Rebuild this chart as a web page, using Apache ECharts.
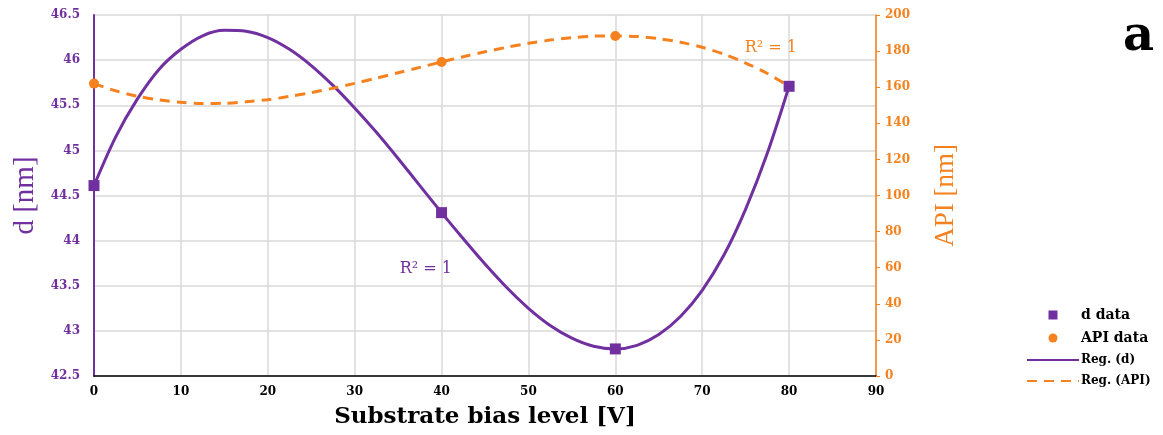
<!DOCTYPE html>
<html>
<head>
<meta charset="utf-8">
<script src="https://cdn.jsdelivr.net/npm/echarts@6/dist/echarts.min.js"></script>
<style>
  html, body { margin: 0; padding: 0; background: #fff; }
  #chart { width: 1163px; height: 435px; }
</style>
</head>
<body>
<div id="chart"></div>
<script>
// measured points
const biasX = [0, 40, 60, 80];
const dData = [44.61, 44.31, 42.80, 45.71];
const apiData = [162.0, 174.0, 188.4, 160.5];

// regression curves
const curveX = [0, 2.5, 5, 7.5, 10, 12.5, 15, 17.5, 20, 22.5, 25, 27.5, 30, 32.5, 35, 37.5,
  40, 42.5, 45, 47.5, 50, 52.5, 55, 57.5, 60, 62.5, 65, 67.5, 70, 72.5, 75, 77.5, 80];
const dCurve = [44.61, 45.15, 45.57, 45.90, 46.12, 46.27, 46.33, 46.32, 46.25, 46.12,
  45.94, 45.72, 45.47, 45.20, 44.91, 44.61, 44.31, 44.02, 43.74, 43.48, 43.25, 43.06,
  42.92, 42.83, 42.80, 42.84, 42.96, 43.16, 43.45, 43.84, 44.35, 44.97, 45.71];
const apiCurve = [162.0, 158.0, 155.0, 152.9, 151.6, 151.0, 151.1, 151.9, 153.1, 154.9,
  157.0, 159.4, 162.1, 165.0, 168.0, 171.0, 174.0, 176.9, 179.6, 182.1, 184.3, 186.1,
  187.4, 188.3, 188.4, 188.1, 186.9, 184.9, 182.1, 178.3, 173.4, 167.6, 160.5];

const xTicks = { min: 0, max: 90, interval: 10 };
const dTicks = { min: 42.5, max: 46.5, interval: 0.5 };
const apiTicks = { min: 0, max: 200, interval: 20 };

const PURPLE = '#7030a0';
const ORANGE = '#f5821f';
const SERIF = '"Liberation Serif", "DejaVu Serif", serif';
const WIDE = '"DejaVu Serif", serif';

const chart = echarts.init(document.getElementById('chart'));

const pair = (xs, ys) => xs.map((x, i) => [x, ys[i]]);

chart.setOption({
  animation: false,
  textStyle: { fontFamily: SERIF },
  grid: { left: 94, right: 287, top: 15, bottom: 59 },
  title: {
    text: 'a',
    left: 1118, top: 9,
    textStyle: { fontFamily: WIDE, fontSize: 48, fontWeight: 'bold', color: '#000' }
  },
  legend: {
    orient: 'vertical',
    left: 1021, top: 303,
    itemWidth: 52, itemHeight: 9,
    itemGap: 9,
    textStyle: { fontFamily: WIDE, fontWeight: 'bold', color: '#000', fontSize: 14, padding: [0, 0, 0, -3] },
    data: [
      { name: 'd data', icon: 'path://M0,0H10V10H0Z' },
      { name: 'API data' },
      { name: 'Reg. (d)', itemStyle: { opacity: 0 }, textStyle: { fontSize: 12 } },
      { name: 'Reg. (API)', itemStyle: { opacity: 0 }, textStyle: { fontSize: 12 } }
    ]
  },
  xAxis: {
    type: 'value',
    ...xTicks,
    name: 'Substrate bias level [V]',
    nameLocation: 'middle',
    nameGap: 30,
    nameTextStyle: { fontFamily: WIDE, fontSize: 23, fontWeight: 'bold', color: '#000' },
    axisLine: { onZero: false, lineStyle: { color: '#000', width: 1.5 } },
    axisTick: { show: false },
    axisLabel: { fontFamily: WIDE, fontWeight: 'bold', fontSize: 12, color: '#000', margin: 10 },
    splitLine: { lineStyle: { color: '#d9d9d9', width: 1.5 } }
  },
  yAxis: [
    {
      type: 'value',
      ...dTicks,
      position: 'left',
      name: 'd [nm]',
      nameLocation: 'middle',
      nameRotate: 90,
      nameGap: 54,
      nameTextStyle: { fontFamily: SERIF, fontSize: 29, color: PURPLE },
      axisLine: { show: true, lineStyle: { color: PURPLE, width: 2 } },
      axisTick: { show: false },
      axisLabel: { fontFamily: WIDE, fontWeight: 'bold', fontSize: 12, color: PURPLE, margin: 14 },
      splitLine: { lineStyle: { color: '#d9d9d9', width: 1.5 } }
    },
    {
      type: 'value',
      ...apiTicks,
      position: 'right',
      name: 'API [nm]',
      nameLocation: 'middle',
      nameRotate: 90,
      nameGap: 56,
      nameTextStyle: { fontFamily: SERIF, fontSize: 27, color: ORANGE },
      axisLine: { show: true, lineStyle: { color: ORANGE, width: 1.5 } },
      axisTick: { show: true, inside: false, length: 4, lineStyle: { color: ORANGE } },
      axisLabel: { fontFamily: WIDE, fontWeight: 'bold', fontSize: 12, color: ORANGE, margin: 9 },
      splitLine: { show: false }
    }
  ],
  series: [
    {
      name: 'Reg. (d)',
      type: 'line',
      yAxisIndex: 0,
      smooth: 0.3,
      symbol: 'none',
      data: pair(curveX, dCurve),
      lineStyle: { color: PURPLE, width: 3 },
      itemStyle: { color: PURPLE },
      z: 3,
      markPoint: {
        symbol: 'circle', symbolSize: 0,
        label: { show: true, formatter: 'R² = 1', color: PURPLE, fontFamily: WIDE, fontSize: 16 },
        data: [{ coord: [38.2, 43.69] }]
      }
    },
    {
      name: 'Reg. (API)',
      type: 'line',
      yAxisIndex: 1,
      smooth: 0.3,
      symbol: 'none',
      data: pair(curveX, apiCurve),
      lineStyle: { color: ORANGE, width: 3, type: [10, 7] },
      itemStyle: { color: ORANGE },
      z: 3,
      markPoint: {
        symbol: 'circle', symbolSize: 0,
        label: { show: true, formatter: 'R² = 1', color: ORANGE, fontFamily: WIDE, fontSize: 16 },
        data: [{ coord: [77.9, 182] }]
      }
    },
    {
      name: 'API data',
      type: 'scatter',
      yAxisIndex: 1,
      symbol: 'circle',
      symbolSize: 10,
      data: pair(biasX, apiData),
      itemStyle: { color: ORANGE, opacity: 1 },
      z: 4
    },
    {
      name: 'd data',
      type: 'scatter',
      yAxisIndex: 0,
      symbol: 'rect',
      symbolSize: 11,
      data: pair(biasX, dData),
      itemStyle: { color: PURPLE, opacity: 1 },
      z: 5
    }
  ]
});
</script>
</body>
</html>
